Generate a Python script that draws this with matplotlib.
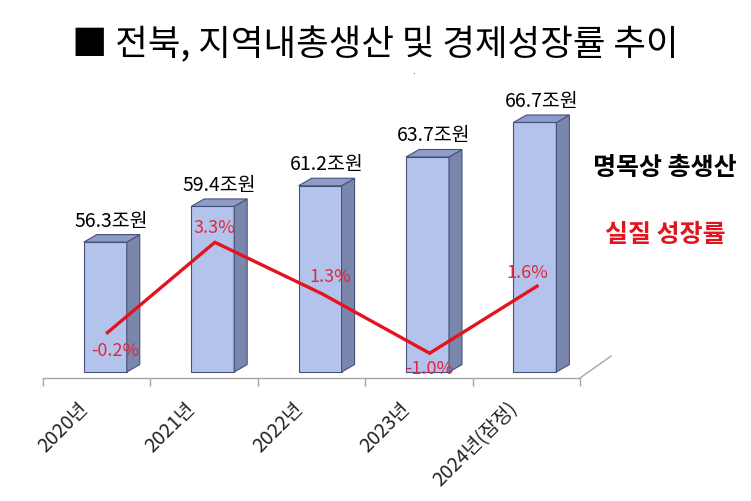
import matplotlib
matplotlib.use("Agg")
import matplotlib.pyplot as plt
from matplotlib.patches import Polygon
from matplotlib.lines import Line2D

plt.rcParams['font.family'] = ['Noto Sans CJK KR', 'DejaVu Sans']

# ---- data ----
categories = ['2020년', '2021년', '2022년', '2023년', '2024년(잠정)']
gdp_values = [56.3, 59.4, 61.2, 63.7, 66.7]          # 명목상 총생산 (조원)
growth_rates = [-0.2, 3.3, 1.3, -1.0, 1.6]           # 실질 성장률 (%)
gdp_labels = ['56.3조원', '59.4조원', '61.2조원', '63.7조원', '66.7조원']
growth_labels = ['-0.2%', '3.3%', '1.3%', '-1.0%', '1.6%']

# ---- style ----
W, H = 751, 502
fig = plt.figure(figsize=(W / 100, H / 100), dpi=100)
ax_left, ax_right, ax_bottom, ax_top = 43, 580, 379, 80
ax = fig.add_axes([ax_left / W, 1 - ax_bottom / H, (ax_right - ax_left) / W, (ax_bottom - ax_top) / H])

base = 45.0
ax.set_xlim(-0.5, len(categories) - 0.5)
ax.set_ylim(44.48, 70.48)

front_c = '#b3c3ec'
top_c = '#8f9bc9'
side_c = '#7a86ab'
edge_c = '#46527a'
bar_w = 0.4
bar_off = 0.08
dx, dy = 0.121, 0.65

xs = [i + bar_off for i in range(len(categories))]
ax.bar(xs, [v - base for v in gdp_values], bottom=base, width=bar_w,
       color=front_c, edgecolor=edge_c, linewidth=0.8, zorder=3)
for x, v in zip(xs, gdp_values):
    x0, x1 = x - bar_w / 2, x + bar_w / 2
    side = Polygon([(x1, base), (x1 + dx, base + dy), (x1 + dx, v + dy), (x1, v)],
                   closed=True, facecolor=side_c, edgecolor=edge_c, linewidth=0.8, zorder=3)
    top = Polygon([(x0, v), (x0 + dx, v + dy), (x1 + dx, v + dy), (x1, v)],
                  closed=True, facecolor=top_c, edgecolor=edge_c, linewidth=0.8, zorder=3)
    ax.add_patch(side)
    ax.add_patch(top)

for x, v, lab in zip(xs, gdp_values, gdp_labels):
    ax.annotate(lab, (x + 0.06, v), xytext=(0, 22), textcoords='offset pixels',
                ha='center', va='center', fontsize=14, color='black', zorder=6)

# axes styling
for s in ['top', 'right', 'left']:
    ax.spines[s].set_visible(False)
ax.spines['bottom'].set_color('#a6a6a6')
ax.spines['bottom'].set_linewidth(1.0)
ax.set_yticks([])
ax.set_xticks([i - 0.5 for i in range(len(categories) + 1)])
ax.set_xticklabels([])
ax.tick_params(axis='x', which='major', length=6, color='#a6a6a6', width=1.0)
ax.set_xticks([i - 0.18 for i in range(len(categories))], minor=True)
ax.set_xticklabels(categories, minor=True, rotation=45, ha='right',
                   rotation_mode='anchor', fontsize=14, color='#222222')
ax.tick_params(axis='x', which='minor', length=0, pad=14)

# floor depth edge
ax.add_line(Line2D([1.0, 1.058], [0.0, 0.0736], transform=ax.transAxes,
                   color='#a6a6a6', linewidth=1.0, clip_on=False))

# ---- growth line on secondary axis ----
ax2 = ax.twinx()
ax2.set_ylim(-1.96, 9.63)
ax2.axis('off')
lx = [i + 0.1 for i in range(len(categories))]
ax2.plot(lx, growth_rates, color='#e3141e', linewidth=2.4, zorder=5,
         solid_joinstyle='miter')
label_offsets = [(8, -17), (0, 15), (8, 18), (0, -15), (-10, 14)]
for x, r, lab, (ox, oy) in zip(lx, growth_rates, growth_labels, label_offsets):
    ax2.annotate(lab, (x, r), xytext=(ox, oy), textcoords='offset pixels',
                 ha='center', va='center', fontsize=13, color='#e2283e', zorder=6)

# ---- titles / legend texts ----
fig.text(72 / W, 1 - 45 / H, '■ 전북, 지역내총생산 및 경제성장률 추이',
         ha='left', va='center', fontsize=25.5, color='black')
fig.text(414 / W, 1 - 75 / H, '·', ha='center', va='center', fontsize=6, color='black')
fig.text(593 / W, 1 - 168 / H, '명목상 총생산', ha='left', va='center',
         fontsize=18, fontweight='bold', color='black')
fig.text(605 / W, 1 - 235 / H, '실질 성장률', ha='left', va='center',
         fontsize=18, fontweight='bold', color='#e3141e')

fig.savefig('out.png', dpi=100, facecolor='white')
